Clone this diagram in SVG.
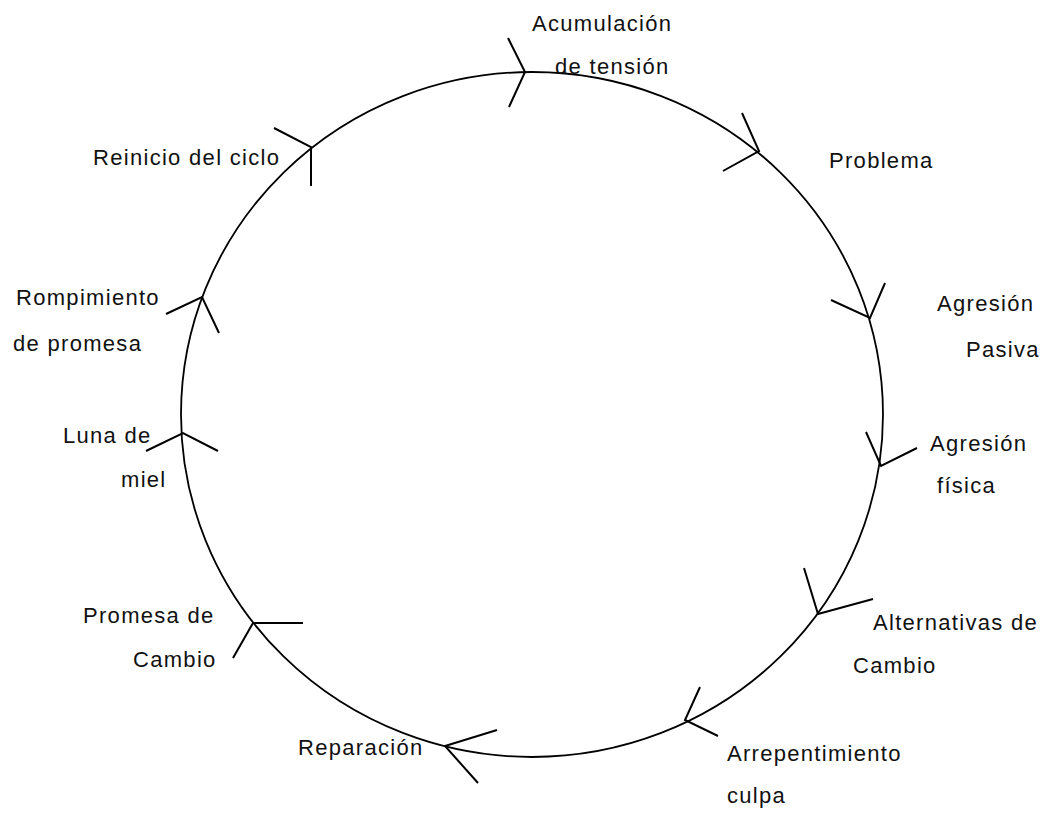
<svg xmlns="http://www.w3.org/2000/svg" width="1049" height="815" viewBox="0 0 1049 815">
<style>
  text { font-family: "Liberation Sans", Arial, sans-serif; font-size: 22px; letter-spacing: 1.3px; fill: #111; }
  .cyc { fill: none; stroke: #000; stroke-width: 1.8; }
  .arr { fill: none; stroke: #000; stroke-width: 2; stroke-linejoin: miter; }
</style>
<rect width="1049" height="815" fill="#fff"/>
<g id="connectors">
  <ellipse class="cyc" cx="532" cy="414.5" rx="351" ry="342.5"/>
</g>
<g id="acumulacion">
  <path class="arr" d="M508 38 L525 72 L509 107"/>
  <text x="532" y="31">Acumulación</text>
  <text x="555" y="74">de tensión</text>
</g>
<g id="problema">
  <path class="arr" d="M742 113 L759 151 L723 171"/>
  <text x="829" y="168">Problema</text>
</g>
<g id="agresion-pasiva">
  <path class="arr" d="M885 283 L870 318 L831 300"/>
  <text x="937" y="311">Agresión</text>
  <text x="966" y="357">Pasiva</text>
</g>
<g id="agresion-fisica">
  <path class="arr" d="M866 432 L881 466 L917 448"/>
  <text x="930" y="451">Agresión</text>
  <text x="937" y="493">física</text>
</g>
<g id="alternativas">
  <path class="arr" d="M804 568 L818 614 L873 599"/>
  <text x="873" y="630">Alternativas de</text>
  <text x="853" y="673">Cambio</text>
</g>
<g id="arrepentimiento">
  <path class="arr" d="M700 687 L685 720 L718 736"/>
  <text x="727" y="761">Arrepentimiento</text>
  <text x="727" y="803">culpa</text>
</g>
<g id="reparacion">
  <path class="arr" d="M497 730 L445 746 L478 783"/>
  <text x="298" y="755">Reparación</text>
</g>
<g id="promesa-cambio">
  <path class="arr" d="M303 623 L253 623 L233 658"/>
  <text x="83" y="623">Promesa de</text>
  <text x="133" y="667">Cambio</text>
</g>
<g id="luna-de-miel">
  <path class="arr" d="M146 451 L183 433 L218 451"/>
  <text x="63" y="443">Luna de</text>
  <text x="121" y="487">miel</text>
</g>
<g id="rompimiento">
  <path class="arr" d="M166 314 L202 297 L219 333"/>
  <text x="16" y="305">Rompimiento</text>
  <text x="13" y="351">de promesa</text>
</g>
<g id="reinicio">
  <path class="arr" d="M274 128 L311 147 L311 186"/>
  <text x="93" y="165">Reinicio del ciclo</text>
</g>
</svg>
